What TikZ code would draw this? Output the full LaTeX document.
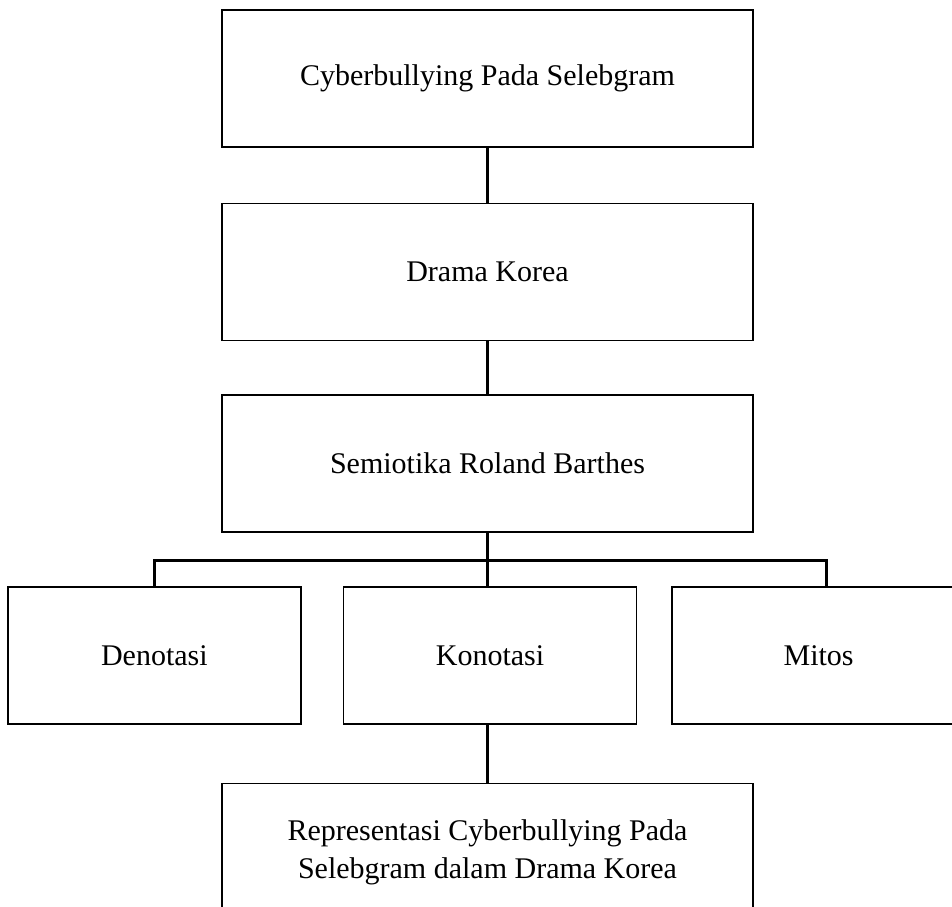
\documentclass[tikz,border=0pt]{standalone}
\usepackage{fontspec}
\setmainfont{Liberation Serif}
\usetikzlibrary{positioning}

\begin{document}
\begin{tikzpicture}[x=1pt, y=-1pt,
    box/.style={draw, line width=1.6pt, minimum width=531pt, minimum height=137pt,
        align=center, font=\fontsize{30}{38}\selectfont},
    small/.style={box, minimum width=293pt},
    conn/.style={line width=3pt}]
    \useasboundingbox (0,0) rectangle (952,906);
    \clip (0,0) rectangle (952,906);
    \node[box](cyber) at (487.5,78.5){Cyberbullying Pada Selebgram};
    \node[box, below=55pt of cyber](drama){Drama Korea};
    \node[box, below=53pt of drama](barthes){Semiotika Roland Barthes};
    \node[small, below=53pt of barthes, xshift=2.5pt](konotasi){Konotasi};
    \node[small, left=41pt of konotasi](denotasi){Denotasi};
    \node[small, right=34pt of konotasi](mitos){Mitos};
    \node[box, below=58pt of konotasi, xshift=-2.5pt](hasil){Representasi Cyberbullying Pada\\Selebgram dalam Drama Korea};
    \coordinate[below=27pt of barthes](cabang);
    \draw[conn] (cyber) -- (drama);
    \draw[conn] (drama) -- (barthes);
    \draw[conn] (barthes) -- (barthes |- konotasi.north);
    \draw[conn] (denotasi.north) |- (cabang) -| ([xshift=8pt]mitos.north);
    \draw[conn] (hasil |- konotasi.south) -- (hasil);
\end{tikzpicture}
\end{document}
